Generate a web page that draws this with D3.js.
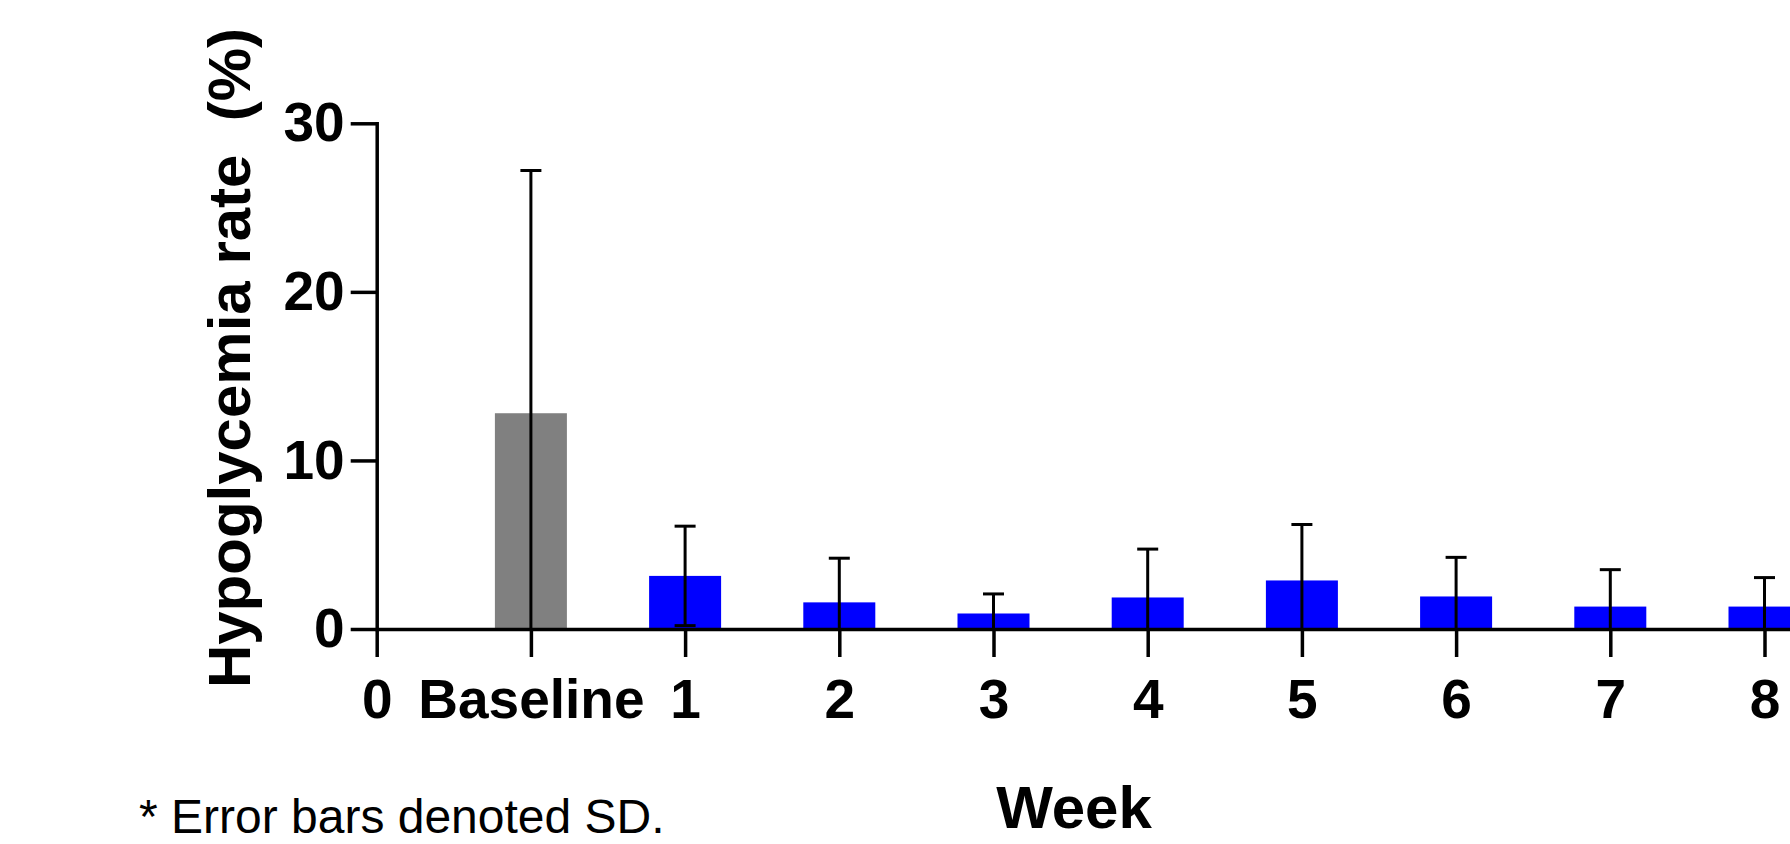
<!DOCTYPE html>
<html>
<head>
<meta charset="utf-8">
<script src="https://cdn.jsdelivr.net/npm/d3@7"></script>
<style>
  body { margin: 0; background: #fff; }
  svg { display: block; font-family: "Liberation Sans", Arial, sans-serif; }
</style>
</head>
<body>
<div id="chart"></div>
<script>
// DATA //
let tickLabels = ["0", "Baseline", "1", "2", "3", "4", "5", "6", "7", "8"];
let groups = ["Baseline", "1", "2", "3", "4", "5", "6", "7", "8"];
let means = [12.8, 3.15, 1.58, 0.92, 1.87, 2.88, 1.93, 1.33, 1.33];
let sds = [14.4, 2.95, 2.62, 1.16, 2.87, 3.32, 2.32, 2.19, 1.72];
let yTicks = [0, 10, 20, 30];

// DIMENSIONS //
let W = 1790, H = 844;
let x0 = 376.7, step = 154.2;
let yTop = 123.3, yZero = 629;

let svg = d3.select("#chart").append("svg")
    .attr("width", W)
    .attr("height", H);

// scales
let xScale = d3.scaleLinear()
    .domain([0, 9.3])
    .range([x0, x0 + 9.3 * step]);

let yScale = d3.scaleLinear()
    .domain([0, 30])
    .range([yZero, yTop]);

let barW = 72, capW = 21;

// BARS //
svg.append("g").selectAll("rect")
    .data(groups)
    .join("rect")
    .attr("x", (d, i) => xScale(i + 1) - barW / 2)
    .attr("y", (d, i) => yScale(means[i]))
    .attr("width", barW)
    .attr("height", (d, i) => yZero - yScale(means[i]))
    .attr("fill", (d, i) => i == 0 ? "#808080" : "#0000ff");

// ERROR BARS (SD, clipped at 0) //
let err = svg.append("g")
    .attr("stroke", "#000")
    .attr("stroke-width", 3);

groups.forEach((g, i) => {
    let cx = xScale(i + 1);
    let hi = means[i] + sds[i];
    let lo = Math.max(0, means[i] - sds[i]);
    err.append("line")
        .attr("x1", cx).attr("x2", cx)
        .attr("y1", yScale(lo)).attr("y2", yScale(hi));
    err.append("line")
        .attr("x1", cx - capW / 2).attr("x2", cx + capW / 2)
        .attr("y1", yScale(hi)).attr("y2", yScale(hi));
    if (means[i] - sds[i] > 0) {
        err.append("line")
            .attr("x1", cx - capW / 2).attr("x2", cx + capW / 2)
            .attr("y1", yScale(lo)).attr("y2", yScale(lo));
    }
});

// Y AXIS //
let yAxis = svg.append("g")
    .attr("transform", "translate(" + x0 + ",0)")
    .call(d3.axisLeft(yScale)
        .tickValues(yTicks)
        .tickSize(26)
        .tickSizeOuter(0)
        .tickPadding(6));

// X AXIS //
let xAxis = svg.append("g")
    .attr("transform", "translate(0," + yZero + ")")
    .call(d3.axisBottom(xScale)
        .tickValues(d3.range(tickLabels.length))
        .tickFormat(i => tickLabels[i])
        .tickSize(28)
        .tickSizeOuter(0)
        .tickPadding(22));

[yAxis, xAxis].forEach(a => {
    a.select(".domain").attr("stroke", "#000").attr("stroke-width", 3.5);
    a.selectAll(".tick line").attr("stroke", "#000").attr("stroke-width", 3.5);
    a.selectAll(".tick text")
        .attr("fill", "#000")
        .style("font-family", "'Liberation Sans', Arial, sans-serif")
        .style("font-size", "55px")
        .style("font-weight", "bold");
});

yAxis.select(".domain").attr("stroke-linecap", "square");

// LABELS //
svg.append("text")
    .attr("transform", "translate(250,358) rotate(-90)")
    .attr("text-anchor", "middle")
    .attr("xml:space", "preserve")
    .style("font-size", "60px")
    .style("font-weight", "bold")
    .text("Hypoglycemia rate  (%)");

svg.append("text")
    .attr("x", 1074)
    .attr("y", 828)
    .attr("text-anchor", "middle")
    .style("font-size", "60px")
    .style("font-weight", "bold")
    .text("Week");

svg.append("text")
    .attr("x", 139)
    .attr("y", 833)
    .style("font-size", "48px")
    .text("* Error bars denoted SD.");
</script>
</body>
</html>
